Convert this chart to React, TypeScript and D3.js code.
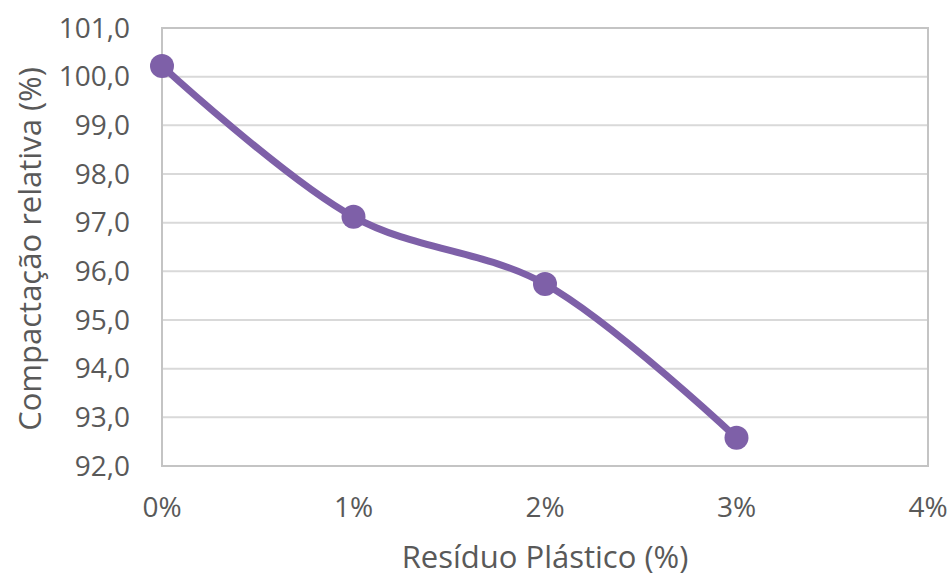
import React from "react";
import * as d3 from "d3";

// Relative compaction (%) versus plastic residue content (%)
const residue = [0, 1, 2, 3];
const compaction = [100.22, 97.12, 95.74, 92.58];
const xTicks = [0, 1, 2, 3, 4];
const yTicks = [92, 93, 94, 95, 96, 97, 98, 99, 100, 101];

const W = 951;
const H = 576;
const plot = { left: 162, right: 928, top: 28, bottom: 466 };

const textColor = "#595959";
const gridColor = "#d9d9d9";
const borderColor = "#c4c4c4";
const lineColor = "#7e60a8";
const font = "'Open Sans', 'Noto Sans', sans-serif";

const ptBR = d3.formatLocale({ decimal: ",", thousands: ".", grouping: [3], currency: ["R$", ""] });
const fmtY = ptBR.format(".1f");

export default function App() {
  const x = d3.scaleLinear().domain([0, 4]).range([plot.left, plot.right]);
  const y = d3.scaleLinear().domain([92, 101]).range([plot.bottom, plot.top]);

  const pts: [number, number][] = residue.map((r, i) => [x(r), y(compaction[i])]);
  const path = d3.line().curve(d3.curveCatmullRom.alpha(0.5))(pts) || "";

  return (
    <svg
      width={W}
      height={H}
      style={{ position: "absolute", left: 0, top: 0, background: "#fff" }}
      fontFamily={font}
    >
      <rect x={0} y={0} width={W} height={H} fill="#fff" />
      {/* horizontal gridlines */}
      {yTicks.map((t) => (
        <line key={t} x1={plot.left} x2={plot.right} y1={y(t)} y2={y(t)} stroke={gridColor} strokeWidth={2} />
      ))}
      {/* plot frame */}
      <rect
        x={plot.left}
        y={plot.top}
        width={plot.right - plot.left}
        height={plot.bottom - plot.top}
        fill="none"
        stroke={borderColor}
        strokeWidth={2}
      />
      {/* y tick labels */}
      {yTicks.map((t) => (
        <text key={t} x={130} y={y(t)} dy="0.35em" textAnchor="end" fontSize={28} fill={textColor}>
          {fmtY(t)}
        </text>
      ))}
      {/* x tick labels */}
      {xTicks.map((t) => (
        <text key={t} x={x(t)} y={507} dy="0.35em" textAnchor="middle" fontSize={28} fill={textColor}>
          {`${t}%`}
        </text>
      ))}
      {/* axis titles */}
      <text
        transform={`translate(30,${(plot.top + plot.bottom) / 2 + 2}) rotate(-90)`}
        dy="0.35em"
        textAnchor="middle"
        fontSize={31}
        fill={textColor}
      >
        Compactação relativa (%)
      </text>
      <text x={545} y={557} dy="0.35em" textAnchor="middle" fontSize={31} fill={textColor}>
        Resíduo Plástico (%)
      </text>
      {/* series */}
      <path d={path} fill="none" stroke={lineColor} strokeWidth={7} strokeLinecap="round" />
      {pts.map(([px, py], i) => (
        <circle key={i} cx={px} cy={py} r={12} fill={lineColor} />
      ))}
    </svg>
  );
}
